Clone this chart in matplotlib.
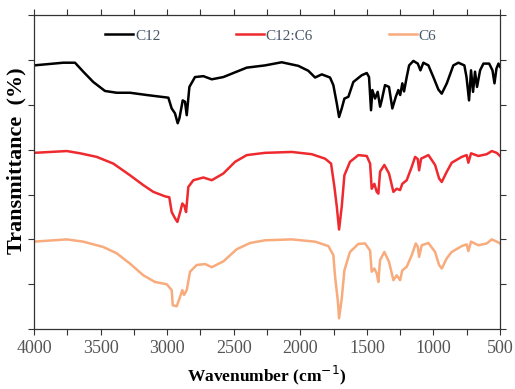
import numpy as np
import matplotlib
matplotlib.use("Agg")
import matplotlib.pyplot as plt
from matplotlib.ticker import MultipleLocator, NullFormatter

plt.rcParams['font.family'] = ['Liberation Serif', 'DejaVu Serif']

# FTIR spectra, stacked (C12 on top, blend in the middle, C6 at the bottom)
wn_c12 = [4000, 3780, 3692, 3630, 3555, 3467, 3379, 3279, 3154, 2991, 2966, 2941, 2921, 2908,
          2883, 2866, 2853, 2833, 2791, 2728, 2665, 2578, 2503, 2402, 2265, 2140, 2015, 1940,
          1889, 1839, 1777, 1752, 1726, 1709, 1689, 1669, 1639, 1602, 1539, 1501, 1484, 1469,
          1459, 1439, 1419, 1401, 1389, 1364, 1334, 1309, 1283, 1264, 1250, 1234, 1221, 1201,
          1183, 1151, 1118, 1098, 1076, 1038, 1001, 963, 938, 900, 851, 813, 768, 752, 733,
          718, 703, 688, 673, 650, 625, 582, 557, 542, 527, 512, 500]
t_c12 = [5.88, 5.94, 5.94, 5.74, 5.51, 5.31, 5.27, 5.27, 5.22, 5.16, 4.92, 4.81, 4.59, 4.70,
         5.10, 5.07, 4.77, 5.40, 5.62, 5.64, 5.57, 5.62, 5.71, 5.83, 5.88, 5.95, 5.87, 5.76,
         5.61, 5.68, 5.61, 5.44, 5.03, 4.73, 4.92, 5.14, 5.18, 5.51, 5.66, 5.71, 5.62, 4.88,
         5.33, 5.14, 5.29, 4.96, 5.10, 5.44, 5.40, 4.92, 5.18, 5.33, 5.22, 5.48, 5.30, 5.62,
         5.88, 5.98, 5.92, 5.77, 5.94, 5.88, 5.62, 5.34, 5.25, 5.48, 5.88, 5.94, 5.88, 5.62, 5.10,
         5.77, 5.29, 5.74, 5.40, 5.77, 5.92, 5.92, 5.77, 5.48, 5.81, 5.92, 5.85]

wn_mix = [4000, 3754, 3654, 3529, 3404, 3279, 3179, 3104, 3016, 2984, 2966, 2941, 2923, 2903,
          2886, 2871, 2858, 2841, 2803, 2728, 2665, 2578, 2490, 2402, 2265, 2065, 1914, 1814,
          1769, 1744, 1726, 1709, 1689, 1669, 1627, 1564, 1501, 1476, 1464, 1444, 1426, 1414,
          1401, 1369, 1334, 1301, 1276, 1251, 1234, 1201, 1163, 1138, 1118, 1108, 1093, 1038,
          988, 958, 938, 900, 863, 788, 751, 738, 718, 663, 600, 562, 525, 500]
t_mix = [3.93, 3.97, 3.92, 3.84, 3.69, 3.43, 3.21, 3.06, 2.96, 2.94, 2.61, 2.47, 2.39, 2.60,
         2.80, 2.75, 2.61, 3.17, 3.32, 3.38, 3.32, 3.47, 3.73, 3.88, 3.93, 3.95, 3.90, 3.80,
         3.69, 3.17, 2.73, 2.22, 2.73, 3.43, 3.73, 3.88, 3.86, 3.69, 3.13, 3.24, 3.06, 3.02,
         3.51, 3.66, 3.47, 3.06, 3.13, 3.10, 3.24, 3.32, 3.62, 3.84, 3.79, 3.54, 3.80, 3.88,
         3.66, 3.36, 3.28, 3.51, 3.71, 3.84, 3.88, 3.71, 3.92, 3.86, 3.90, 3.97, 3.93, 3.86]

wn_c6 = [4000, 3754, 3630, 3479, 3379, 3279, 3179, 3091, 3003, 2966, 2958, 2928, 2903, 2886,
         2873, 2853, 2828, 2778, 2715, 2665, 2578, 2478, 2378, 2265, 2065, 1889, 1789, 1752,
         1739, 1719, 1709, 1689, 1669, 1627, 1564, 1514, 1476, 1464, 1444, 1426, 1414, 1401,
         1369, 1334, 1301, 1276, 1251, 1234, 1201, 1163, 1133, 1118, 1108, 1088, 1038, 988,
         958, 938, 900, 863, 788, 751, 738, 718, 663, 600, 562, 525, 500]
t_c6 = [1.95, 2.00, 1.95, 1.83, 1.69, 1.46, 1.20, 1.05, 1.00, 0.87, 0.53, 0.51, 0.72, 0.87,
        0.76, 0.87, 1.28, 1.43, 1.45, 1.38, 1.51, 1.78, 1.92, 1.98, 2.00, 1.95, 1.85, 1.65,
        1.17, 0.65, 0.24, 0.68, 1.31, 1.72, 1.90, 1.91, 1.75, 1.28, 1.35, 1.24, 1.05, 1.54,
        1.72, 1.50, 1.09, 1.20, 1.09, 1.31, 1.39, 1.65, 1.91, 1.84, 1.61, 1.87, 1.92, 1.72,
        1.43, 1.35, 1.58, 1.72, 1.85, 1.89, 1.74, 1.95, 1.87, 1.91, 2.00, 1.95, 1.91]

labels = ['C12', 'C12:C6', 'C6']
colors = ['#000000', '#ee2a2f', '#f8ab7c']

fig = plt.figure(figsize=(5.15, 3.89), dpi=100)
ax = fig.add_axes([0.066, 0.154, 0.905, 0.807])

for wn, t, lab, c in zip([wn_c12, wn_mix, wn_c6], [t_c12, t_mix, t_c6], labels, colors):
    ax.plot(wn, t, color=c, lw=1.8, label=lab, solid_joinstyle='round')

ax.set_xlim(4000, 500)
ax.set_ylim(0, 7)
ax.xaxis.set_major_locator(MultipleLocator(500))
ax.xaxis.set_minor_locator(MultipleLocator(250))
ax.yaxis.set_major_locator(MultipleLocator(1))
ax.yaxis.set_major_formatter(NullFormatter())
ax.tick_params(axis='both', which='both', direction='out', length=4, width=0.8,
               top=True, right=True, color='#333333')
ax.tick_params(axis='x', labelsize=13, labelcolor='#555555', pad=4)
for s in ax.spines.values():
    s.set_color('#333333')
    s.set_linewidth(0.9)

ax.set_xlabel('Wavenumber (cm$^{-1}$)', fontsize=12.5, fontweight='bold', labelpad=5)
ax.set_ylabel('Transmittance  (%)', fontsize=16, fontweight='bold')
ax.yaxis.set_label_coords(-0.016, 0.538)

leg = ax.legend(loc='upper center', bbox_to_anchor=(0.508, 1.0), ncol=3, frameon=False,
                fontsize=11, handlelength=1.85, handletextpad=0.1, columnspacing=4.95)
for txt in leg.get_texts():
    txt.set_color('#445566')

fig.savefig('out.png', dpi=100)
